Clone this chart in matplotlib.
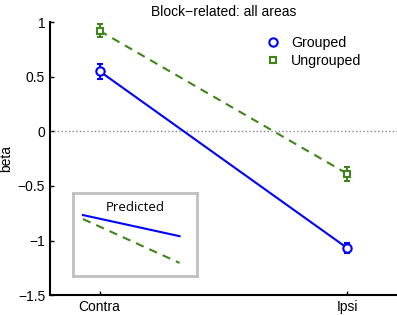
import matplotlib
matplotlib.use("Agg")
import matplotlib.pyplot as plt
from matplotlib.lines import Line2D

conditions = ["Contra", "Ipsi"]
positions = [1, 2]
grouped = [0.55, -1.07]
grouped_err = [0.07, 0.045]
ungrouped = [0.92, -0.39]
ungrouped_err = [0.06, 0.065]
# sketch in the inset, in inset axes units (0..1)
predicted_grouped = [0.735, 0.48]
predicted_ungrouped = [0.687, 0.157]

blue = "#0000ff"
green = "#3f8519"

plt.rcParams["font.family"] = ["Liberation Sans", "DejaVu Sans"]

fig = plt.figure(figsize=(3.97, 3.15), dpi=100)
ax = fig.add_axes([0.126, 0.063, 0.874, 0.867])

ax.plot([0.8, 2.2], [0, 0], ":", color="#888888", lw=1)
ax.errorbar(positions, grouped, yerr=grouped_err, color=blue, lw=1.5,
            marker="o", ms=6, mfc="white", mec=blue, mew=1.5,
            capsize=2.5, capthick=1.5)
ax.errorbar(positions, ungrouped, yerr=ungrouped_err, color=green, lw=1.5,
            ls="--", dashes=(4, 3), marker="s", ms=4.5, mfc="white", mec=green,
            mew=1.5, capsize=2.5, capthick=1.5)

ax.set_xlim(0.8, 2.2)
ax.set_ylim(-1.5, 1)
ax.set_xticks(positions)
ax.set_xticklabels(conditions)
ax.set_yticks([-1.5, -1, -0.5, 0, 0.5, 1])
ax.set_yticklabels(["\u22121.5", "\u22121", "\u22120.5", "0", "0.5", "1"])
ax.tick_params(direction="in", length=3, labelsize=10, width=1)
ax.spines["top"].set_visible(False)
ax.spines["right"].set_visible(False)
ax.spines["left"].set_linewidth(1.5)
ax.spines["bottom"].set_linewidth(1.5)
ax.set_ylabel("beta", fontsize=10, labelpad=3)
ax.set_title("Block\u2212related: all areas", fontsize=10, pad=4)

handles = [
    Line2D([], [], ls="none", marker="o", ms=6, mfc="white", mec=blue, mew=1.5),
    Line2D([], [], ls="none", marker="s", ms=4.5, mfc="white", mec=green, mew=1.5),
]
ax.legend(handles, ["Grouped", "Ungrouped"], loc="upper right",
          bbox_to_anchor=(0.935, 0.995), frameon=False, fontsize=10.2,
          handlelength=1.0, handletextpad=0.8, labelspacing=0.25)

ins = fig.add_axes([0.184, 0.124, 0.312, 0.263])
ins.plot([0.08, 0.86], predicted_grouped, color=blue, lw=1.5)
ins.plot([0.08, 0.86], predicted_ungrouped, color=green, lw=1.5, ls="--", dashes=(4, 3))
ins.set_xlim(0, 1)
ins.set_ylim(0, 1)
ins.set_xticks([])
ins.set_yticks([])
for s in ins.spines.values():
    s.set_color("#c0c0c0")
    s.set_linewidth(2)
ins.text(0.5, 0.83, "Predicted", transform=ins.transAxes, ha="center",
         va="center", fontsize=9.5, family=["Open Sans", "DejaVu Sans"])

fig.savefig("out.png", dpi=100)
